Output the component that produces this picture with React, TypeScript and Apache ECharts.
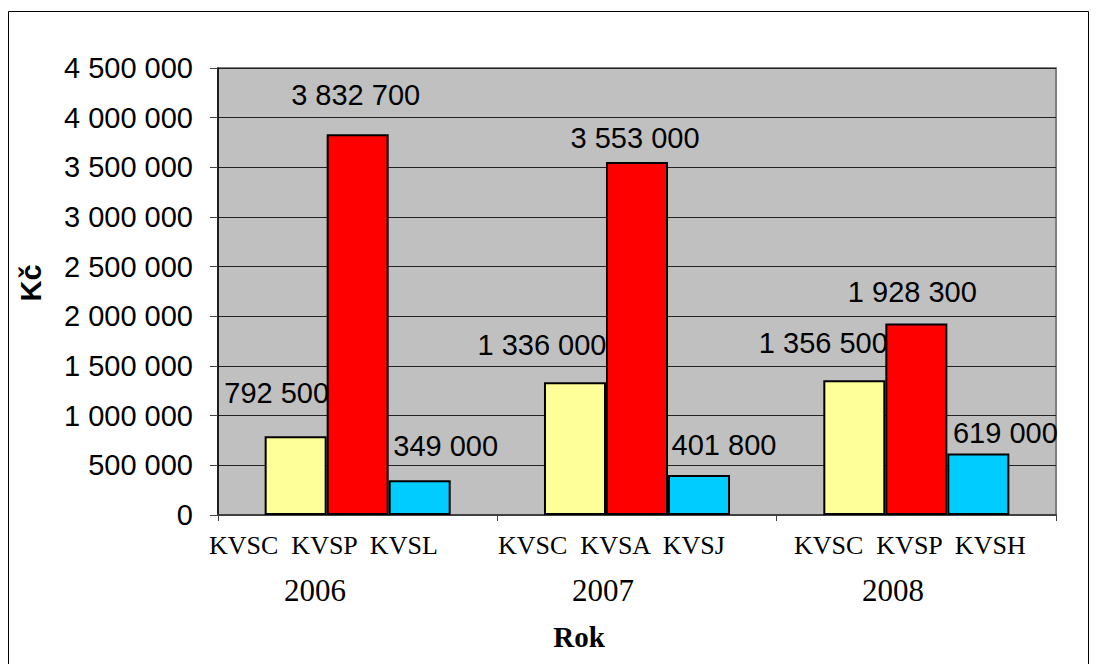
import React, { useEffect, useRef } from "react";
import * as echarts from "echarts";

// ---- data ----
const years = ["2006", "2007", "2008"];
const subLabels = ["KVSC  KVSP  KVSL", "KVSC  KVSA  KVSJ", "KVSC  KVSP  KVSH"];
const valuesFirst = [792500, 1336000, 1356500]; // KVSC
const valuesSecond = [3832700, 3553000, 1928300]; // KVSP / KVSA / KVSP
const valuesThird = [349000, 401800, 619000]; // KVSL / KVSJ / KVSH
const yMin = 0;
const yMax = 4500000;
const yInterval = 500000;

// ---- label styling (offsets in px, relative to bar top) ----
const offsetsFirst: number[][] = [[-19, -29], [-33, -23], [-31, -23]];
const offsetsSecond: number[][] = [[-2, -25], [-2, -10], [-4, -17]];
const offsetsThird: number[][] = [[26, -20], [25, -16], [27, -7]];

const fmt = (n: number) => String(n).replace(/\B(?=(\d{3})+(?!\d))/g, " ");

const SANS = "'Liberation Sans', Arial, sans-serif";
const SERIF = "'Liberation Serif', 'Times New Roman', serif";

function makeSeries(values: number[], offsets: number[][], color: string) {
  return {
    type: "bar",
    barGap: "0%",
    barCategoryGap: "33.4%",
    data: values.map((v, i) => ({
      value: v,
      label: { offset: offsets[i] },
    })),
    itemStyle: { color, borderColor: "#000", borderWidth: 2 },
    label: {
      show: true,
      position: "top",
      distance: 0,
      formatter: (p: any) => fmt(p.value),
      color: "#000",
      fontSize: 29,
      lineHeight: 28,
      fontFamily: SANS,
    },
  };
}

export default function App() {
  const ref = useRef<HTMLDivElement>(null);
  useEffect(() => {
    if (!ref.current) return;
    const chart = echarts.init(ref.current, undefined, { renderer: "svg" });
    const subX = [209, 498, 794];
    const yearX = [315, 603, 893];
    const graphics: any[] = [
      {
        type: "rect",
        shape: { x: 8.5, y: 11.5, width: 1080, height: 700 },
        style: { fill: "none", stroke: "#000", lineWidth: 1 },
        silent: true,
      },
      ...subLabels.map((t, i) => ({
        type: "text",
        x: subX[i],
        y: 545,
        style: {
          text: t,
          font: `26px ${SERIF}`,
          fill: "#000",
          textAlign: "left",
          textVerticalAlign: "middle",
        },
      })),
      ...years.map((t, i) => ({
        type: "text",
        x: yearX[i],
        y: 590,
        style: {
          text: t,
          font: `31px ${SERIF}`,
          fill: "#000",
          textAlign: "center",
          textVerticalAlign: "middle",
        },
      })),
      {
        type: "text",
        x: 579,
        y: 637,
        style: {
          text: "Rok",
          font: `bold 29px ${SERIF}`,
          fill: "#000",
          textAlign: "center",
          textVerticalAlign: "middle",
        },
      },
      {
        type: "text",
        x: 31,
        y: 283,
        rotation: Math.PI / 2,
        style: {
          text: "Kč",
          font: `bold 29px ${SANS}`,
          fill: "#000",
          textAlign: "center",
          textVerticalAlign: "middle",
        },
      },
    ];
    chart.setOption({
      animation: false,
      backgroundColor: "#fff",
      grid: {
        left: 218,
        top: 68,
        right: 41,
        bottom: 149,
        show: true,
        backgroundColor: "#C0C0C0",
        borderColor: "#808080",
        borderWidth: 2,
      },
      xAxis: {
        type: "category",
        data: years,
        axisLine: { show: true, lineStyle: { color: "#404040", width: 2 } },
        axisTick: { show: true, length: 6, lineStyle: { color: "#404040" } },
        axisLabel: { show: false },
        splitLine: { show: false },
      },
      yAxis: {
        type: "value",
        min: yMin,
        max: yMax,
        interval: yInterval,
        axisLine: { show: true, lineStyle: { color: "#000", width: 1.5 } },
        axisTick: { show: true, length: 8, lineStyle: { color: "#404040" } },
        axisLabel: {
          formatter: (v: number) => fmt(v),
          fontSize: 29,
          fontFamily: SANS,
          color: "#000",
          margin: 25,
        },
        splitLine: { show: true, lineStyle: { color: "#222", width: 1 } },
      },
      series: [
        makeSeries(valuesFirst, offsetsFirst, "#FFFF99"),
        makeSeries(valuesSecond, offsetsSecond, "#FF0000"),
        makeSeries(valuesThird, offsetsThird, "#00CCFF"),
      ],
      graphic: graphics,
    });
    return () => chart.dispose();
  }, []);
  return (
    <div
      ref={ref}
      style={{ position: "absolute", left: 0, top: 0, width: 1097, height: 664 }}
    />
  );
}
